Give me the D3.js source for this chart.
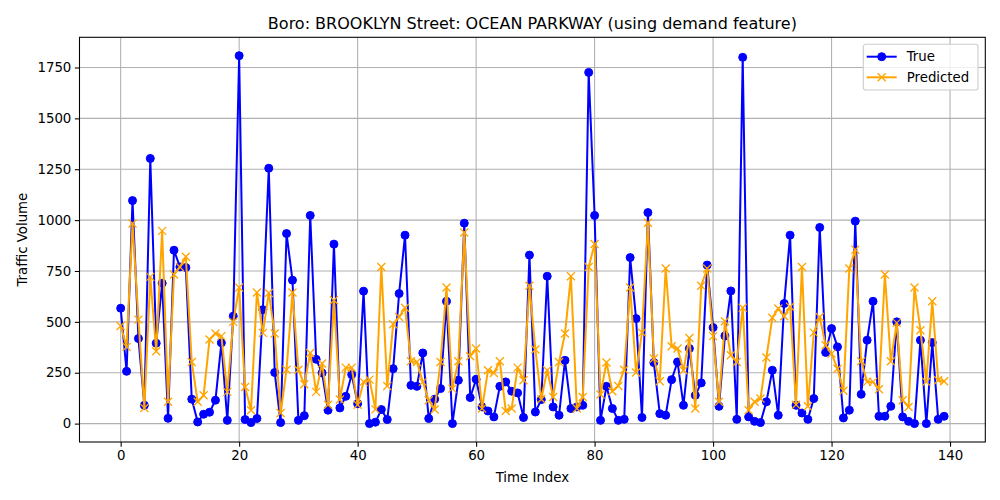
<!DOCTYPE html>
<html>
<head>
<meta charset="utf-8">
<script src="https://cdn.jsdelivr.net/npm/d3@7"></script>
<style>
  body { margin: 0; background: #fff; }
  svg { font-family: "DejaVu Sans", sans-serif; }
</style>
</head>
<body>
<div id="chart-area"></div>
<script>
// values
var trueVals = [567, 257, 1096, 418, 90, 1303, 395, 690, 26, 852,
  770, 767, 120, 8, 46, 56, 115, 397, 16, 528,
  1808, 20, 5, 25, 560, 1255, 251, 5, 934, 705,
  16, 39, 1023, 316, 249, 66, 882, 77, 134, 241,
  98, 651, 0, 7, 69, 20, 270, 639, 926, 188,
  183, 347, 25, 120, 172, 601, 0, 213, 985, 128,
  218, 82, 62, 33, 183, 205, 159, 151, 30, 828,
  57, 118, 724, 82, 41, 311, 74, 82, 90, 1726,
  1023, 16, 183, 74, 16, 21, 816, 516, 30, 1037,
  300, 49, 41, 216, 303, 90, 369, 139, 200, 779,
  472, 85, 431, 652, 21, 1800, 33, 11, 5, 107,
  262, 41, 590, 926, 90, 52, 21, 123, 964, 350,
  467, 377, 28, 66, 995, 144, 410, 601, 36, 36,
  85, 500, 33, 11, 0, 410, 0, 398, 21, 36];

var predVals = [480, 377, 983, 511, 77, 721, 356, 947, 107, 733,
  770, 820, 303, 107, 139, 413, 443, 430, 156, 500,
  669, 180, 66, 644, 446, 642, 443, 52, 265, 644,
  265, 193, 347, 156, 295, 93, 606, 118, 275, 275,
  93, 205, 216, 70, 770, 185, 488, 524, 569, 306,
  303, 205, 115, 69, 303, 669, 172, 306, 939, 331,
  369, 74, 262, 249, 306, 62, 74, 275, 213, 677,
  364, 120, 262, 131, 303, 443, 724, 74, 131, 770,
  883, 143, 300, 159, 185, 265, 669, 251, 447, 987,
  320, 208, 762, 380, 369, 262, 421, 74, 677, 762,
  430, 107, 503, 336, 303, 569, 66, 107, 123, 325,
  520, 566, 528, 574, 93, 770, 85, 447, 524, 385,
  344, 270, 161, 762, 855, 306, 205, 205, 169, 733,
  306, 495, 115, 82, 669, 459, 205, 601, 213, 208];

var xTicks = [0, 20, 40, 60, 80, 100, 120, 140];
var yTicks = [0, 250, 500, 750, 1000, 1250, 1500, 1750];
var seriesNames = ["True", "Predicted"];
var seriesColors = ["blue", "orange"];
var titleText = "Boro: BROOKLYN Street: OCEAN PARKWAY (using demand feature)";

var W = 1000, H = 500;
var margin = { left: 79.5, right: 14.7, top: 37.3, bottom: 58 };
var width = W - margin.left - margin.right;
var height = H - margin.top - margin.bottom;

var svg = d3.select("#chart-area")
    .append("svg")
    .attr("width", W)
    .attr("height", H);

svg.append("rect").attr("width", W).attr("height", H).attr("fill", "#fff");

var g = svg.append("g")
    .attr("transform", "translate(" + margin.left + "," + margin.top + ")");

// matplotlib style 5% margins
var n = trueVals.length;
var xPad = (n - 1) * 0.05;
var x = d3.scaleLinear().domain([-xPad, n - 1 + xPad]).range([0, width]);

var allVals = trueVals.concat(predVals);
var yMin = d3.min(allVals), yMax = d3.max(allVals);
var yPad = (yMax - yMin) * 0.05;
var y = d3.scaleLinear().domain([yMin - yPad, yMax + yPad]).range([height, 0]);

// grid
g.append("g").selectAll("line").data(xTicks).enter().append("line")
    .attr("x1", d => x(d)).attr("x2", d => x(d))
    .attr("y1", 0).attr("y2", height)
    .attr("stroke", "#b0b0b0").attr("stroke-width", 1.07);
g.append("g").selectAll("line").data(yTicks).enter().append("line")
    .attr("y1", d => y(d)).attr("y2", d => y(d))
    .attr("x1", 0).attr("x2", width)
    .attr("stroke", "#b0b0b0").attr("stroke-width", 1.07);

// axes
var xAxis = g.append("g")
    .attr("transform", "translate(0," + height + ")")
    .call(d3.axisBottom(x).tickValues(xTicks).tickFormat(d3.format("d"))
        .tickSize(4.67).tickPadding(3.5).tickSizeOuter(0));
var yAxis = g.append("g")
    .call(d3.axisLeft(y).tickValues(yTicks).tickFormat(d3.format("d"))
        .tickSize(4.67).tickPadding(3.5).tickSizeOuter(0));

[xAxis, yAxis].forEach(function(a) {
    a.select(".domain").remove();
    a.selectAll(".tick line").attr("stroke", "#000").attr("stroke-width", 1.07);
    a.selectAll(".tick text").attr("fill", "#000")
        .style("font-family", "DejaVu Sans").style("font-size", "13.33px");
});

// series
var line = d3.line().x((d, i) => x(i)).y(d => y(d));

function drawSeries(vals, color, marker) {
    g.append("path").datum(vals)
        .attr("d", line)
        .attr("fill", "none")
        .attr("stroke", color)
        .attr("stroke-width", 2)
        .attr("stroke-linejoin", "round")
        .attr("stroke-linecap", "square");
    var m = g.append("g");
    vals.forEach(function(d, i) {
        drawMarker(m, x(i), y(d), color, marker);
    });
}

function drawMarker(parent, cx, cy, color, marker) {
    if (marker === "o") {
        parent.append("circle")
            .attr("cx", cx).attr("cy", cy).attr("r", 4)
            .attr("fill", color).attr("stroke", color).attr("stroke-width", 1);
    } else {
        var s = 4;
        parent.append("path")
            .attr("d", "M" + (cx - s) + "," + (cy - s) + "L" + (cx + s) + "," + (cy + s) +
                "M" + (cx - s) + "," + (cy + s) + "L" + (cx + s) + "," + (cy - s))
            .attr("stroke", color).attr("stroke-width", 1.33).attr("fill", "none");
    }
}

drawSeries(trueVals, seriesColors[0], "o");
drawSeries(predVals, seriesColors[1], "x");

// frame
g.append("rect")
    .attr("width", width).attr("height", height)
    .attr("fill", "none").attr("stroke", "#000").attr("stroke-width", 1.07);

// title and labels
svg.append("text")
    .attr("x", margin.left + width / 2).attr("y", 28.5)
    .attr("text-anchor", "middle")
    .style("font-size", "16px")
    .text(titleText);

svg.append("text")
    .attr("x", margin.left + width / 2).attr("y", 482)
    .attr("text-anchor", "middle")
    .style("font-size", "13.33px")
    .text("Time Index");

svg.append("text")
    .attr("transform", "translate(26.5," + (margin.top + height / 2) + ") rotate(-90)")
    .attr("text-anchor", "middle")
    .style("font-size", "13.33px")
    .text("Traffic Volume");

// legend
var lg = svg.append("g").attr("transform", "translate(863.3,44.3)");
lg.append("rect")
    .attr("width", 114.7).attr("height", 45.7)
    .attr("rx", 2.5).attr("ry", 2.5)
    .attr("fill", "#fff").attr("fill-opacity", 0.8)
    .attr("stroke", "#cccccc").attr("stroke-width", 1.07);

seriesNames.forEach(function(name, i) {
    var cy = 12.4 + i * 20.6;
    lg.append("line")
        .attr("x1", 3.4).attr("x2", 33.4)
        .attr("y1", cy).attr("y2", cy)
        .attr("stroke", seriesColors[i]).attr("stroke-width", 2);
    drawMarker(lg, 18.4, cy, seriesColors[i], i === 0 ? "o" : "x");
    lg.append("text")
        .attr("x", 43.4).attr("y", cy + 4.8)
        .style("font-size", "13.33px")
        .text(name);
});
</script>
</body>
</html>
